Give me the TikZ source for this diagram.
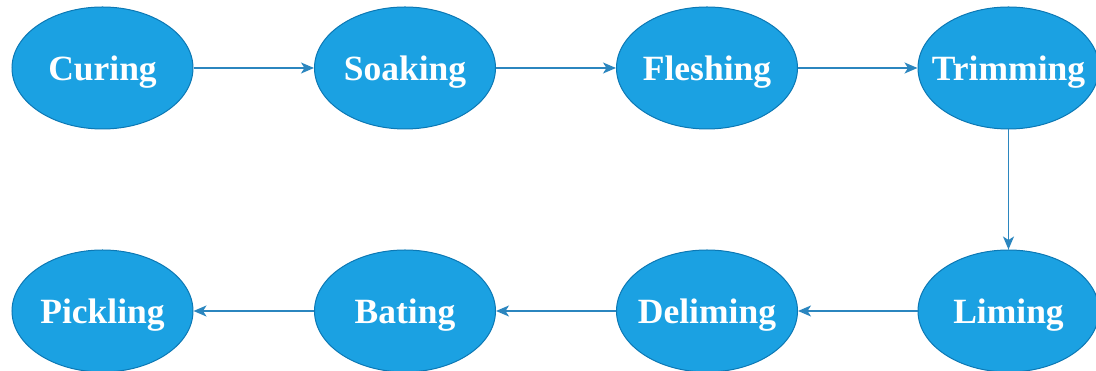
\documentclass[tikz,border=0pt]{standalone}
\usepackage{fontspec}
\setmainfont{Liberation Serif}
\usetikzlibrary{shapes.geometric,arrows.meta}
\definecolor{fillblue}{HTML}{1BA1E2}
\definecolor{edgeblue}{HTML}{0C78B4}
\definecolor{linkblue}{HTML}{2B86BF}
\begin{document}
\begin{tikzpicture}[x=1pt,y=1pt,
  stage/.style={ellipse,fill=fillblue,draw=edgeblue,line width=1pt,minimum width=181pt,minimum height=122pt,inner sep=0pt},
  stagetext/.style={text=white,anchor=base,inner sep=0pt,font=\fontsize{35.5}{38}\selectfont\bfseries},
  flow/.style={draw=linkblue,line width=1.4pt,-{Stealth[length=13pt,width=11pt,inset=3.5pt]}}]
\useasboundingbox (0,0) rectangle (1096,371);
\clip (0,0) rectangle (1096,371);
\node[stage] (curing) at (102.5,303) {};
\node[stage] (soaking) at (405,303) {};
\node[stage] (fleshing) at (707,303) {};
\node[stage] (trimming) at (1008.5,303) {};
\node[stage] (pickling) at (102.5,60) {};
\node[stage] (bating) at (405,60) {};
\node[stage] (deliming) at (707,60) {};
\node[stage] (liming) at (1008.5,60) {};
\node[stagetext] (tcuring) at ([yshift=-13pt]curing.center) {Curing};
\node[stagetext] (tsoaking) at ([yshift=-13pt]soaking.center) {Soaking};
\node[stagetext] (tfleshing) at ([yshift=-13pt]fleshing.center) {Fleshing};
\node[stagetext] (ttrimming) at ([yshift=-13pt]trimming.center) {Trimming};
\node[stagetext] (tpickling) at ([yshift=-13pt]pickling.center) {Pickling};
\node[stagetext] (tbating) at ([yshift=-13pt]bating.center) {Bating};
\node[stagetext] (tdeliming) at ([yshift=-13pt]deliming.center) {Deliming};
\node[stagetext] (tliming) at ([yshift=-13pt]liming.center) {Liming};
\draw[flow] (curing) -- (soaking);
\draw[flow] (soaking) -- (fleshing);
\draw[flow] (fleshing) -- (trimming);
\draw[flow] (trimming) -- (liming);
\draw[flow] (liming) -- (deliming);
\draw[flow] (deliming) -- (bating);
\draw[flow] (bating) -- (pickling);
\end{tikzpicture}
\end{document}
